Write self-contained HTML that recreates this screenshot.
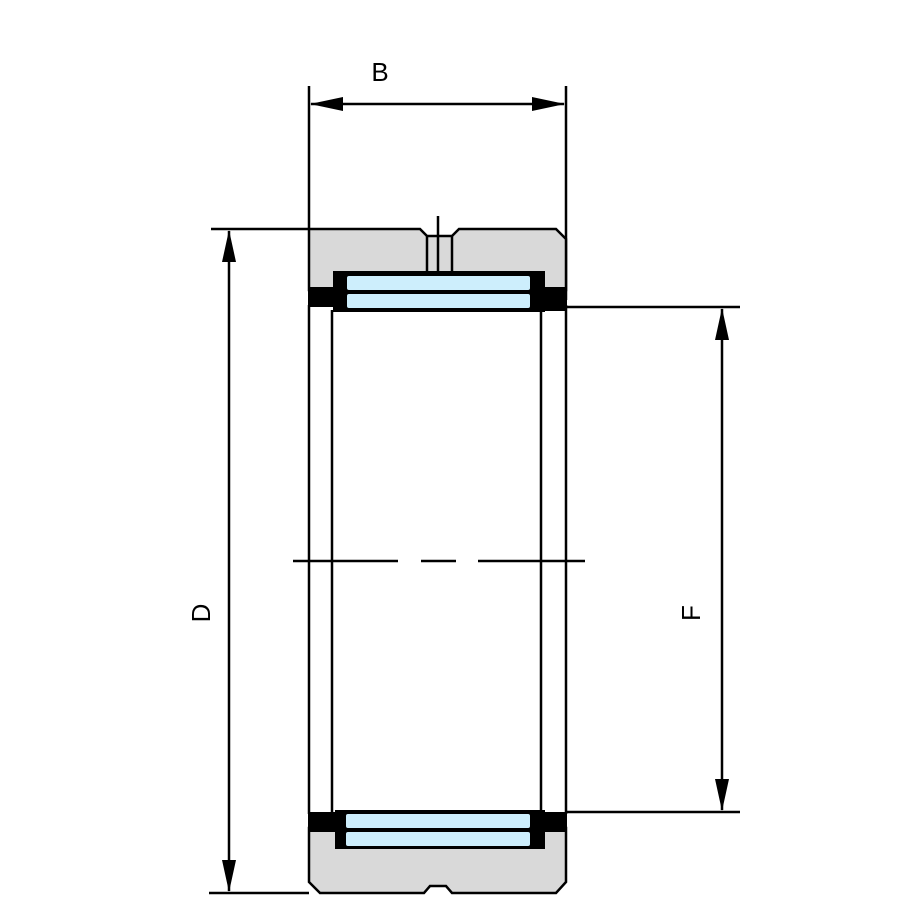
<!DOCTYPE html>
<html><head><meta charset="utf-8"><style>html,body{margin:0;padding:0;background:#fff}svg{display:block}</style></head>
<body>
<svg width="900" height="900" viewBox="0 0 900 900" xmlns="http://www.w3.org/2000/svg">
<g stroke="#000" stroke-width="2.5" fill="none">
<line x1="309" y1="86" x2="309" y2="229"/>
<line x1="566" y1="86" x2="566" y2="300"/>
<line x1="211" y1="229" x2="309" y2="229"/>
<line x1="209" y1="893" x2="309" y2="893"/>
<line x1="566" y1="307" x2="740" y2="307"/>
<line x1="566" y1="812" x2="740" y2="812"/>
<line x1="311" y1="104" x2="564" y2="104"/>
<line x1="229" y1="231" x2="229" y2="891"/>
<line x1="722" y1="309" x2="722" y2="810"/>
</g>
<g fill="#000">
<polygon points="310,104 343,97 343,111"/>
<polygon points="565,104 532,97 532,111"/>
<polygon points="229,230 222,262 236,262"/>
<polygon points="229,892 222,860 236,860"/>
<polygon points="722,308 715,340 729,340"/>
<polygon points="722,811 715,779 729,779"/>
</g>
<g font-family="Liberation Sans, sans-serif" font-size="26" fill="#000">
<text x="380" y="81" text-anchor="middle">B</text>
<text transform="translate(210,613) rotate(-90)" text-anchor="middle">D</text>
<text transform="translate(700,613) rotate(-90)" text-anchor="middle">F</text>
</g>
<path d="M309,229 L420,229 L427,236 L452,236 L459,229 L556,229 L566,239 L566,290 L309,290 Z" fill="#d9d9d9" stroke="#000" stroke-width="2.5"/>
<path d="M309,828 L566,828 L566,882 L556,893 L452,893 L446,886 L430,886 L424,893 L320,893 L309,882 Z" fill="#d9d9d9" stroke="#000" stroke-width="2.5"/>
<g stroke="#000" stroke-width="2.5">
<line x1="427" y1="236" x2="427" y2="272"/>
<line x1="452" y1="236" x2="452" y2="272"/>
<line x1="438" y1="216" x2="438" y2="272"/>
</g>
<rect x="333" y="271" width="212" height="41" fill="#000"/>
<rect x="308" y="287" width="28" height="20" fill="#000"/>
<rect x="540" y="287" width="27" height="24" fill="#000"/>
<rect x="347" y="276" width="183" height="14" rx="2" fill="#cdeefc"/>
<rect x="347" y="294" width="183" height="14" rx="2" fill="#cdeefc"/>
<rect x="335" y="810" width="210" height="39" fill="#000"/>
<rect x="308" y="812" width="28" height="20" fill="#000"/>
<rect x="540" y="812" width="27" height="20" fill="#000"/>
<rect x="346" y="814" width="184" height="14" rx="2" fill="#cdeefc"/>
<rect x="346" y="832" width="184" height="14" rx="2" fill="#cdeefc"/>
<g stroke="#000" stroke-width="2.5">
<line x1="309" y1="305" x2="309" y2="814"/>
<line x1="566" y1="305" x2="566" y2="814"/>
<line x1="332" y1="310" x2="332" y2="812"/>
<line x1="541" y1="310" x2="541" y2="812"/>
<line x1="293" y1="561" x2="398" y2="561"/>
<line x1="421" y1="561" x2="456" y2="561"/>
<line x1="478" y1="561" x2="585" y2="561"/>
</g>
</svg>
</body></html>
